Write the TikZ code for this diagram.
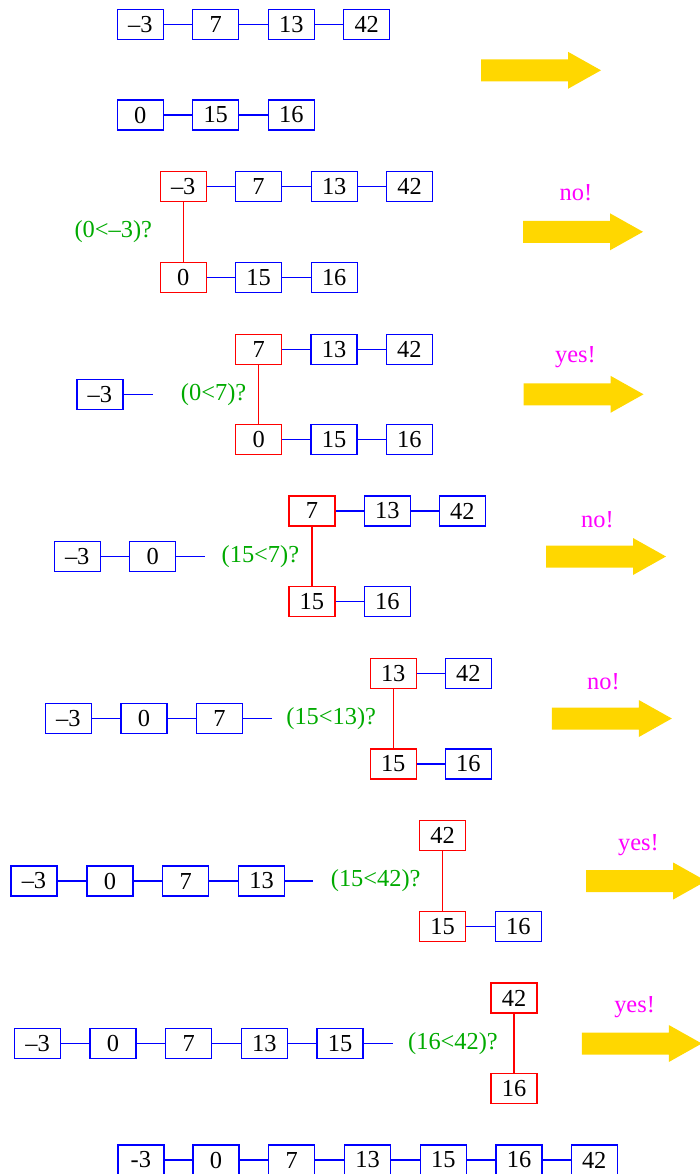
\documentclass[tikz,border=0pt]{standalone}
\usepackage{fontspec}
\setmainfont{Liberation Serif}
\definecolor{boxblue}{RGB}{0,0,255}
\definecolor{boxred}{RGB}{255,0,0}
\definecolor{qgreen}{RGB}{0,170,0}
\definecolor{ansmag}{RGB}{255,0,255}
\definecolor{arrgold}{RGB}{255,215,0}
\begin{document}
\begin{tikzpicture}[x=0.5pt,y=-0.5pt,
  bx/.style={draw=boxblue, line width=0.7pt, minimum width=23pt, minimum height=15pt, inner sep=0pt, font=\fontsize{12.2}{14}\selectfont},
  rb/.style={bx, draw=boxred},
  ln/.style={draw=boxblue, line width=0.7pt},
  rln/.style={draw=boxred, line width=0.7pt},
  qlab/.style={text=qgreen, inner sep=0pt, font=\fontsize{12.2}{14}\selectfont},
  ans/.style={text=ansmag, inner sep=0pt, font=\fontsize{12.2}{14}\selectfont},
  bigarrow/.pic={\fill[arrgold] (0,-11) -- (87,-11) -- (87,-18.5) -- (120,0) -- (87,18.5) -- (87,11) -- (0,11) -- cycle;}
]
\useasboundingbox (0,0) rectangle (700,1174);

% ---------- step 0 ----------
\node[bx] (a1) at (140.3,24.7) {–3};
\node[bx] (a2) at (215.7,24.7) {7};
\node[bx] (a3) at (291.3,24.7) {13};
\node[bx] (a4) at (366.7,24.7) {42};
\node[bx] (b1) at (140.3,115) {0};
\node[bx] (b2) at (215.7,115) {15};
\node[bx] (b3) at (291.3,115) {16};
\draw[ln] (a1) -- (a2) (a2) -- (a3) (a3) -- (a4);
\draw[ln] (b1) -- (b2) (b2) -- (b3);
\pic at (481,70.3) {bigarrow};

% ---------- step 1 ----------
\node[rb] (c1) at (183.2,186.7) {–3};
\node[bx] (c2) at (258.5,186.7) {7};
\node[bx] (c3) at (334.2,186.7) {13};
\node[bx] (c4) at (409.5,186.7) {42};
\node[rb] (d1) at (183.2,277.3) {0};
\node[bx] (d2) at (258.5,277.3) {15};
\node[bx] (d3) at (334.2,277.3) {16};
\draw[ln] (c1) -- (c2) (c2) -- (c3) (c3) -- (c4);
\draw[ln] (d1) -- (d2) (d2) -- (d3);
\draw[rln] (c1) -- (d1);
\node[qlab] (q1) at (113.3,231.7) {(0<–3)?};
\node[ans] (n1) at (576,193) {no!};
\pic at (523,231.8) {bigarrow};

% ---------- step 2 ----------
\node[bx] (e1) at (99.8,394.3) {–3};
\coordinate (e1t) at (152.6,394.3);
\draw[ln] (e1) -- (e1t);
\node[rb] (f1) at (258.6,349.3) {7};
\node[bx] (f2) at (334,349.3) {13};
\node[bx] (f3) at (409.4,349.3) {42};
\node[rb] (g1) at (258.6,439.7) {0};
\node[bx] (g2) at (334,439.7) {15};
\node[bx] (g3) at (409.4,439.7) {16};
\draw[ln] (f1) -- (f2) (f2) -- (f3);
\draw[ln] (g1) -- (g2) (g2) -- (g3);
\draw[rln] (f1) -- (g1);
\node[qlab] (q2) at (213.6,394.3) {(0<7)?};
\node[ans] (n2) at (575.5,357.5) {yes!};
\pic at (523.5,394.3) {bigarrow};

% ---------- step 3 ----------
\node[bx] (h1) at (77.2,556.7) {–3};
\node[bx] (h2) at (152.7,556.7) {0};
\coordinate (h2t) at (205.3,556.7);
\draw[ln] (h1) -- (h2) (h2) -- (h2t);
\node[rb] (i1) at (311.9,511) {7};
\node[bx] (i2) at (387.3,511) {13};
\node[bx] (i3) at (462.4,511) {42};
\node[rb] (j1) at (311.9,601.7) {15};
\node[bx] (j2) at (387.3,601.7) {16};
\draw[ln] (i1) -- (i2) (i2) -- (i3);
\draw[ln] (j1) -- (j2);
\draw[rln] (i1) -- (j1);
\node[qlab] (q3) at (260.4,556.7) {(15<7)?};
\node[ans] (n3) at (597.5,520) {no!};
\pic at (546,556.5) {bigarrow};

% ---------- step 4 ----------
\node[bx] (k1) at (68.4,718.3) {–3};
\node[bx] (k2) at (144,718.3) {0};
\node[bx] (k3) at (219.5,718.3) {7};
\coordinate (k3t) at (271.7,718.3);
\draw[ln] (k1) -- (k2) (k2) -- (k3) (k3) -- (k3t);
\node[rb] (l1) at (393.2,673.7) {13};
\node[bx] (l2) at (468.4,673.7) {42};
\node[rb] (m1) at (393.2,764) {15};
\node[bx] (m2) at (468.4,764) {16};
\draw[ln] (l1) -- (l2);
\draw[ln] (m1) -- (m2);
\draw[rln] (l1) -- (m1);
\node[qlab] (q4) at (331.2,718.3) {(15<13)?};
\node[ans] (n4) at (603.4,682) {no!};
\pic at (551.8,718.5) {bigarrow};

% ---------- step 5 ----------
\node[bx] (o1) at (34,881) {–3};
\node[bx] (o2) at (110,881) {0};
\node[bx] (o3) at (185.7,881) {7};
\node[bx] (o4) at (261.6,881) {13};
\coordinate (o4t) at (313.4,881);
\draw[ln] (o1) -- (o2) (o2) -- (o3) (o3) -- (o4) (o4) -- (o4t);
\node[rb] (p1) at (442.6,835.7) {42};
\node[rb] (r1) at (442.6,926.7) {15};
\node[bx] (r2) at (518.3,926.7) {16};
\draw[ln] (r1) -- (r2);
\draw[rln] (p1) -- (r1);
\node[qlab] (q5) at (375.7,881) {(15<42)?};
\node[ans] (n5) at (638.4,845) {yes!};
\pic at (586.2,881) {bigarrow};

% ---------- step 6 ----------
\node[bx] (s1) at (37.5,1043.2) {–3};
\node[bx] (s2) at (113,1043.2) {0};
\node[bx] (s3) at (188.7,1043.2) {7};
\node[bx] (s4) at (264.3,1043.2) {13};
\node[bx] (s5) at (340,1043.2) {15};
\coordinate (s5t) at (392.9,1043.2);
\draw[ln] (s1) -- (s2) (s2) -- (s3) (s3) -- (s4) (s4) -- (s5) (s5) -- (s5t);
\node[rb] (t1) at (514,998) {42};
\node[rb] (u1) at (514,1088.7) {16};
\draw[rln] (t1) -- (u1);
\node[qlab] (q6) at (453,1043.2) {(16<42)?};
\node[ans] (n6) at (634.6,1006.7) {yes!};
\pic at (581.8,1043.5) {bigarrow};

% ---------- final ----------
\node[bx] (v1) at (140.8,1160) {-3};
\node[bx] (v2) at (216,1160) {0};
\node[bx] (v3) at (291.7,1160) {7};
\node[bx] (v4) at (367.6,1160) {13};
\node[bx] (v5) at (443.3,1160) {15};
\node[bx] (v6) at (519,1160) {16};
\node[bx] (v7) at (594.2,1160) {42};
\draw[ln] (v1) -- (v2) (v2) -- (v3) (v3) -- (v4) (v4) -- (v5) (v5) -- (v6) (v6) -- (v7);
\end{tikzpicture}
\end{document}
